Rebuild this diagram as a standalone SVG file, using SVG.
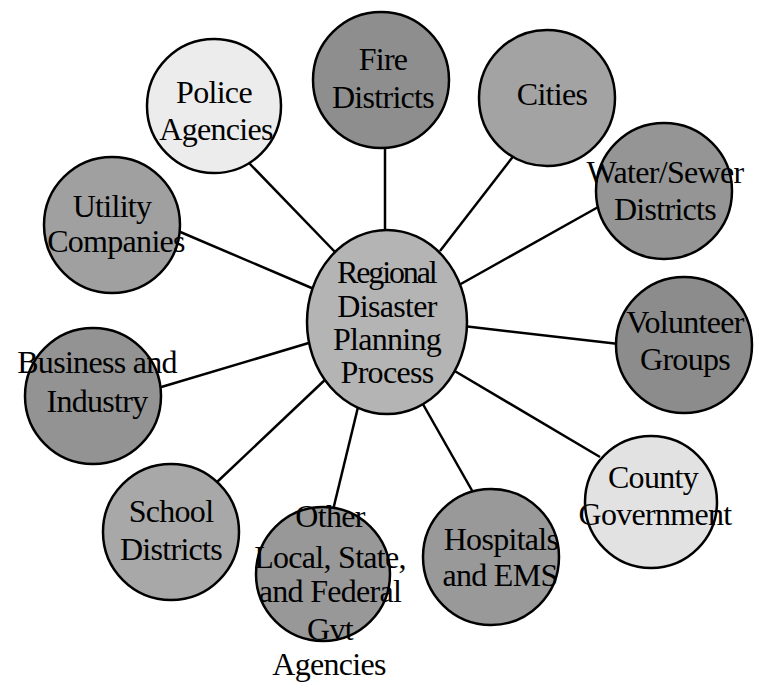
<svg xmlns="http://www.w3.org/2000/svg" width="759" height="698" viewBox="0 0 759 698">
  <style>
    .node { stroke: #000; stroke-width: 2.5; }
    .lbl { font-family: "Liberation Serif", "Times New Roman", serif; font-size: 32px; letter-spacing: -0.7px; fill: #000; text-anchor: middle; }
    .link { stroke: #000; stroke-width: 2.5; fill: none; }
  </style>
  <rect width="759" height="698" fill="#fff"/>

  <!-- spokes from the hub to every partner -->
  <g id="connectors">
    <line class="link" x1="336" y1="253" x2="249" y2="163"/>
    <line class="link" x1="385" y1="234" x2="385" y2="144"/>
    <line class="link" x1="440" y1="251" x2="515" y2="154"/>
    <line class="link" x1="459" y1="285" x2="600" y2="206"/>
    <line class="link" x1="463" y1="326" x2="619" y2="344"/>
    <line class="link" x1="453" y1="370" x2="600" y2="457"/>
    <line class="link" x1="420" y1="399" x2="474" y2="494"/>
    <line class="link" x1="359" y1="403" x2="333" y2="510"/>
    <line class="link" x1="328" y1="377" x2="216" y2="483"/>
    <line class="link" x1="312" y1="342" x2="158" y2="388"/>
    <line class="link" x1="314" y1="289" x2="178" y2="231"/>
  </g>

  <g id="hub">
    <ellipse class="node" cx="387" cy="322" rx="80" ry="92" fill="#b4b4b4"/>
    <text class="lbl" x="387" y="283" textLength="100">Regional</text>
    <text class="lbl" x="387" y="317">Disaster</text>
    <text class="lbl" x="387" y="350">Planning</text>
    <text class="lbl" x="387" y="383">Process</text>
  </g>

  <g id="police">
    <circle class="node" cx="214" cy="106" r="67" fill="#ececec"/>
    <text class="lbl" x="214" y="103">Police</text>
    <text class="lbl" x="216" y="140">Agencies</text>
  </g>

  <g id="fire">
    <circle class="node" cx="381" cy="80" r="68" fill="#8e8e8e"/>
    <text class="lbl" x="383" y="70">Fire</text>
    <text class="lbl" x="383" y="108">Districts</text>
  </g>

  <g id="cities">
    <circle class="node" cx="547" cy="98" r="68" fill="#a3a3a3"/>
    <text class="lbl" x="552" y="105">Cities</text>
  </g>

  <g id="water-sewer">
    <circle class="node" cx="664" cy="191" r="68" fill="#959595"/>
    <text class="lbl" x="665" y="183">Water/Sewer</text>
    <text class="lbl" x="665" y="220">Districts</text>
  </g>

  <g id="volunteer">
    <circle class="node" cx="684" cy="345" r="68" fill="#8c8c8c"/>
    <text class="lbl" x="685" y="333">Volunteer</text>
    <text class="lbl" x="685" y="370">Groups</text>
  </g>

  <g id="county">
    <circle class="node" cx="651" cy="502" r="66" fill="#e2e2e2"/>
    <text class="lbl" x="653" y="488">County</text>
    <text class="lbl" x="655" y="525">Government</text>
  </g>

  <g id="hospitals">
    <circle class="node" cx="491" cy="557" r="68" fill="#999999"/>
    <text class="lbl" x="501" y="550">Hospitals</text>
    <text class="lbl" x="500" y="586">and EMS</text>
  </g>

  <g id="other-agencies">
    <circle class="node" cx="323" cy="574" r="67" fill="#989898"/>
    <text class="lbl" x="330" y="527">Other</text>
    <text class="lbl" x="330" y="568">Local, State,</text>
    <text class="lbl" x="330" y="602">and Federal</text>
    <text class="lbl" x="330" y="640">Gvt</text>
    <text class="lbl" x="329" y="675">Agencies</text>
  </g>

  <g id="schools">
    <circle class="node" cx="171" cy="532" r="68" fill="#a8a8a8"/>
    <text class="lbl" x="171" y="522">School</text>
    <text class="lbl" x="171" y="560">Districts</text>
  </g>

  <g id="business">
    <circle class="node" cx="93" cy="396" r="68" fill="#939393"/>
    <text class="lbl" x="97" y="373">Business and</text>
    <text class="lbl" x="97" y="412">Industry</text>
  </g>

  <g id="utilities">
    <circle class="node" cx="112" cy="225" r="68" fill="#a0a0a0"/>
    <text class="lbl" x="112" y="217">Utility</text>
    <text class="lbl" x="116" y="252">Companies</text>
  </g>
</svg>
